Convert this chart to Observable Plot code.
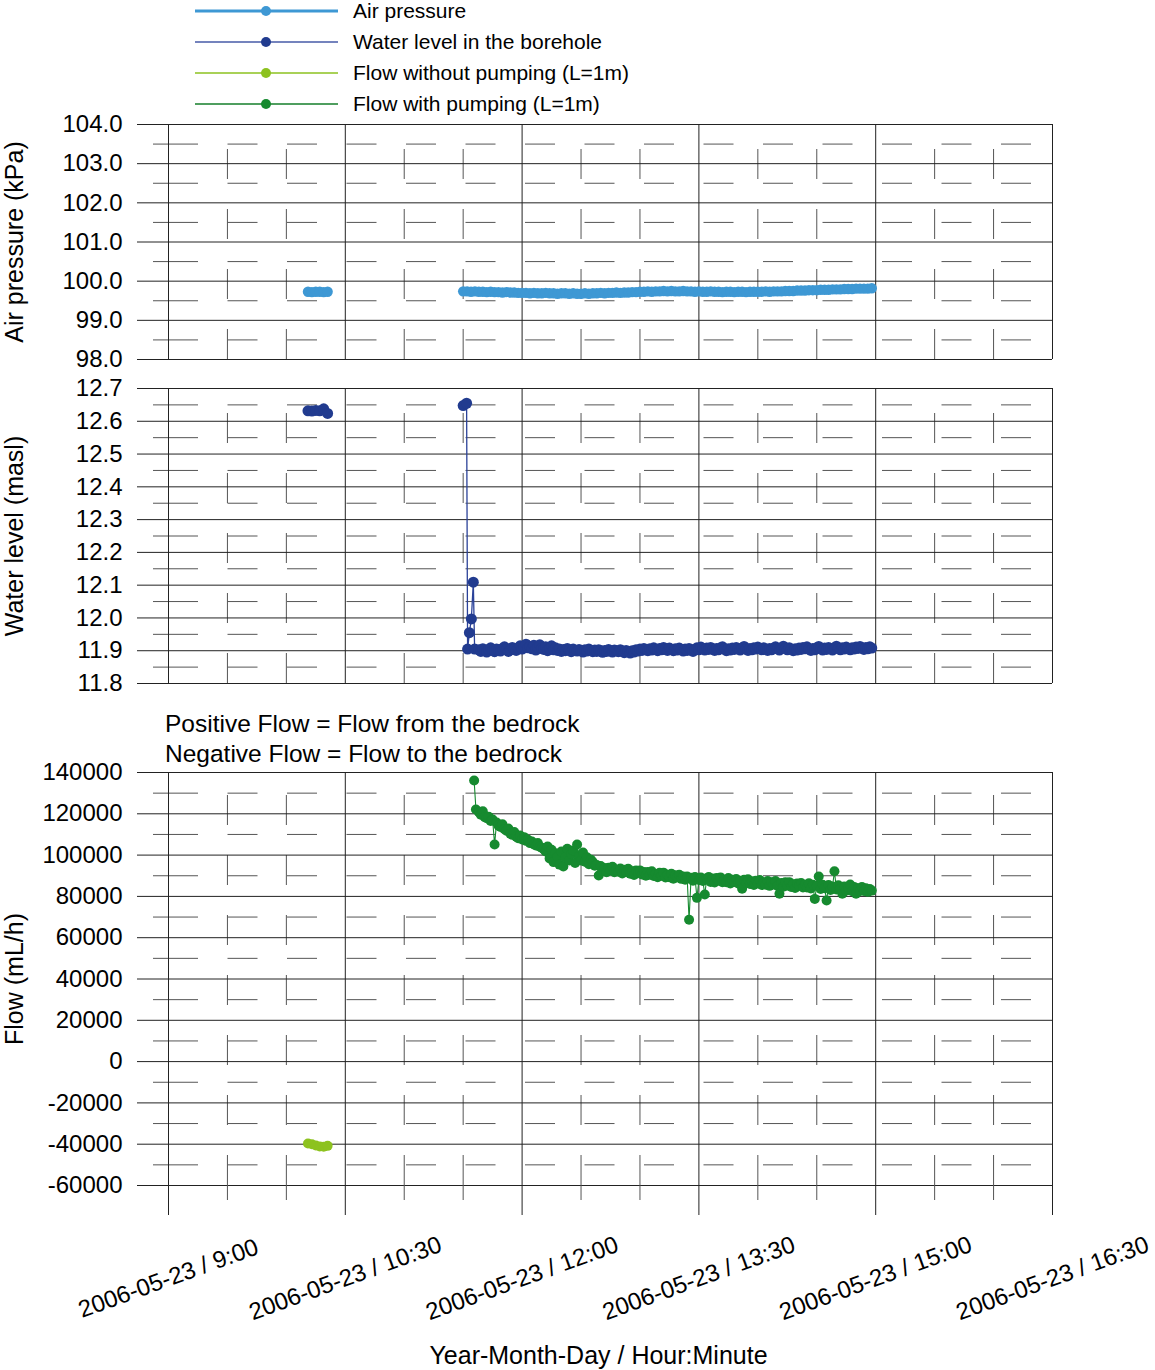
<!DOCTYPE html>
<html>
<head>
<meta charset="utf-8">
<script src="https://cdn.jsdelivr.net/npm/d3@7"></script>
<script src="https://cdn.jsdelivr.net/npm/@observablehq/plot@0.6"></script>
<style>
  body { margin: 0; background: #fff; }
  #chart { position: relative; width: 1155px; height: 1370px; overflow: hidden; background: #fff;
           font-family: "Liberation Sans", Arial, sans-serif; }
  #chart > svg { position: absolute; left: 0; margin: 0; }
</style>
</head>
<body>
<div id="chart"></div>
<script>
// ---- time axis ----
const majorTimes = ["09:00", "10:30", "12:00", "13:30", "15:00", "16:30"];
const minorTimes = ["09:30", "10:00", "11:00", "11:30", "12:30", "13:00", "14:00", "14:30", "15:30", "16:00"];
const xTickLabels = ["2006-05-23 / 9:00", "2006-05-23 / 10:30", "2006-05-23 / 12:00",
                     "2006-05-23 / 13:30", "2006-05-23 / 15:00", "2006-05-23 / 16:30"];
const xTitle = "Year-Month-Day / Hour:Minute";

// ---- y ticks per panel ----
const pressureTicks = [98, 99, 100, 101, 102, 103, 104];
const pressureMinor = [98.5, 99.5, 100.5, 101.5, 102.5, 103.5];
const levelTicks = [11.8, 11.9, 12.0, 12.1, 12.2, 12.3, 12.4, 12.5, 12.6, 12.7];
const levelMinor = [11.85, 11.95, 12.05, 12.15, 12.25, 12.35, 12.45, 12.55, 12.65];
const flowTicks = [-60000, -40000, -20000, 0, 20000, 40000, 60000, 80000, 100000, 120000, 140000];
const flowMinor = [-50000, -30000, -10000, 10000, 30000, 50000, 70000, 90000, 110000, 130000];

// ---- logged series ----
// Run A: before pumping, logged every 2 min from 10:11
const runAStart = "10:11";
const pressureRunA = [99.73, 99.72, 99.73, 99.73, 99.72, 99.73];
const levelRunA = [12.632, 12.631, 12.633, 12.632, 12.638, 12.624];
const flowNoPumpRunA = [-39700, -40000, -40600, -41100, -41200, -40800];

// Run B air pressure: logged every 2 min from 11:30
const runBStart = "11:30";
const pressureRunB = [
  99.74, 99.74, 99.73, 99.74, 99.73, 99.73, 99.72, 99.73, 99.72, 99.72, 99.71, 99.72, 99.71, 99.71, 99.70, 99.70,
  99.70, 99.69, 99.70, 99.69, 99.69, 99.70, 99.69, 99.69, 99.68, 99.69, 99.69, 99.68, 99.69, 99.68, 99.68,
  99.69, 99.68, 99.69, 99.69, 99.70, 99.69, 99.70, 99.70, 99.71, 99.70, 99.71, 99.71, 99.72, 99.72, 99.73,
  99.73, 99.74, 99.73, 99.74, 99.74, 99.75, 99.74, 99.75, 99.74, 99.74, 99.75, 99.74, 99.74, 99.73, 99.74,
  99.73, 99.73, 99.74, 99.73, 99.73, 99.72, 99.73, 99.73, 99.72, 99.73, 99.73, 99.72, 99.73, 99.73, 99.73,
  99.73, 99.74, 99.73, 99.74, 99.74, 99.74, 99.75, 99.75, 99.75, 99.76, 99.76, 99.76, 99.77, 99.77, 99.77,
  99.78, 99.78, 99.78, 99.79, 99.79, 99.79, 99.80, 99.80, 99.80, 99.81, 99.81, 99.81, 99.81, 99.82
];

// Water level drop when pumping starts (irregular samples)
const levelDropTimes = ["11:30:00", "11:31:45", "11:32:15", "11:33:10", "11:34:10", "11:35:10", "11:35:50"];
const levelDropValues = [12.648, 12.655, 11.905, 11.955, 11.997, 12.109, 11.905];

// Flow when pumping starts (irregular samples)
const flowStartTimes = ["11:35:35", "11:36:30"];
const flowStartValues = [136100, 122100];

// Steady pumping, logged every minute from 11:38 to 14:58
const steadyStart = "11:38";
const levelSteady = [
  11.903, 11.898, 11.906, 11.901, 11.896, 11.904, 11.909, 11.900, 11.897, 11.905,
  11.902, 11.899, 11.907, 11.912, 11.904, 11.898, 11.903, 11.910, 11.906, 11.901,
  11.908, 11.915, 11.905, 11.911, 11.920, 11.909, 11.913, 11.906, 11.917, 11.902,
  11.910, 11.918, 11.907, 11.904, 11.912, 11.900, 11.906, 11.915, 11.903, 11.909,
  11.901, 11.905, 11.898, 11.904, 11.900, 11.907, 11.902, 11.897, 11.905, 11.901,
  11.899, 11.904, 11.900, 11.896, 11.903, 11.899, 11.905, 11.901, 11.897, 11.902,
  11.898, 11.903, 11.900, 11.895, 11.901, 11.898, 11.904, 11.899, 11.896, 11.902,
  11.900, 11.897, 11.903, 11.899, 11.894, 11.901, 11.898, 11.893, 11.900, 11.896,
  11.903, 11.899, 11.905, 11.901, 11.907, 11.903, 11.900, 11.906, 11.902, 11.909,
  11.904, 11.900, 11.907, 11.903, 11.910, 11.905, 11.901, 11.908, 11.904, 11.900,
  11.906, 11.902, 11.908, 11.904, 11.899, 11.905, 11.901, 11.907, 11.903, 11.898,
  11.904, 11.909, 11.903, 11.911, 11.906, 11.902, 11.908, 11.904, 11.910, 11.905,
  11.901, 11.907, 11.903, 11.909, 11.912, 11.905, 11.900, 11.906, 11.902, 11.908,
  11.904, 11.910, 11.906, 11.902, 11.908, 11.913, 11.905, 11.901, 11.907, 11.903,
  11.909, 11.905, 11.911, 11.907, 11.903, 11.909, 11.905, 11.901, 11.907, 11.903,
  11.908, 11.912, 11.906, 11.902, 11.908, 11.914, 11.907, 11.903, 11.909, 11.905,
  11.900, 11.906, 11.902, 11.908, 11.904, 11.910, 11.906, 11.912, 11.905, 11.901,
  11.907, 11.903, 11.909, 11.913, 11.906, 11.902, 11.908, 11.904, 11.910, 11.906,
  11.902, 11.908, 11.914, 11.907, 11.903, 11.909, 11.905, 11.911, 11.907, 11.903,
  11.909, 11.905, 11.911, 11.907, 11.913, 11.908, 11.904, 11.910, 11.906, 11.912,
  11.908
];
const flowPumpSteady = [
  // 11:38 - 12:09
  120800, 119500, 121200, 118400, 117900, 118600, 116500, 117200, 105100, 115800,
  114200, 113600, 114900, 112500, 111800, 112900, 110400, 109800, 111200, 108900,
  108200, 109500, 107600, 108700, 106900, 107400, 105800, 106600, 105200, 104700,
  105900, 104100,
  // 12:10 - 12:39
  103600, 102900, 101800, 104200, 98400, 102600, 96600, 100900, 99200, 95400,
  101700, 94500, 98800, 103100, 97400, 100400, 102200, 96200, 105100, 99600,
  97400, 101300, 96800, 98900, 95600, 97800, 96600, 94900, 95200, 90100,
  // 12:40 - 13:24
  94700, 92500, 93700, 91700, 93900, 92700, 94300, 91700, 92900, 91900,
  93500, 91100, 92900, 91800, 93400, 91000, 92200, 90400, 92600, 91400,
  92600, 90600, 91800, 90000, 91800, 90500, 92200, 89900, 90900, 89300,
  91400, 90000, 91500, 89200, 90500, 89300, 91000, 88600, 90300, 89300,
  90500, 88500, 89600, 88100, 89600,
  // 13:25 - 13:34
  68700, 89000, 87600, 89400, 79300, 87900, 89100, 87500, 80900, 88800,
  // 13:35 - 14:58
  89400, 87000, 88700, 86700, 88900, 87700, 89200, 86900, 88000, 86900,
  88900, 86300, 88100, 87000, 88400, 86300, 87600, 83700, 88100, 86500,
  88300, 86000, 87300, 85500, 87600, 86400, 87900, 85500, 86700, 85700,
  87500, 85100, 86900, 85800, 87500, 85200, 81300, 86500, 84700, 86800,
  85300, 86900, 84600, 85900, 84100, 86300, 85200, 86500, 84300, 85600,
  84300, 86400, 83800, 85600, 78800, 85100, 89600, 83600, 85600, 84000,
  78000, 85500, 83100, 84800, 92200, 83300, 85400, 83700, 81300, 84800,
  82800, 84100, 85800, 82500, 84600, 81300, 84000, 82600, 84500, 82600,
  83900, 82200, 83600, 82800
];

// ---- colours ----
const cPressure = "#3e98d4";
const cLevel = "#213b8f";
const cNoPump = "#8dc21f";
const cPump = "#168a2f";

// ---- helpers ----
function t(hms) {
  const [h, m, s = 0] = hms.split(":").map(Number);
  return new Date(Date.UTC(2006, 4, 23, h, m, s));
}
function logged(start, stepMin, values, run) {
  const t0 = +t(start);
  return values.map((value, i) => ({time: new Date(t0 + i * stepMin * 60000), value, run}));
}
function listed(times, values, run) {
  return values.map((value, i) => ({time: t(times[i]), value, run}));
}

const pressureData = [...logged(runAStart, 2, pressureRunA, "A"), ...logged(runBStart, 2, pressureRunB, "B")];
const levelData = [...logged(runAStart, 2, levelRunA, "A"),
                   ...listed(levelDropTimes, levelDropValues, "B"),
                   ...logged(steadyStart, 1, levelSteady, "B")];
const flowNoPumpData = logged(runAStart, 2, flowNoPumpRunA, "A");
const flowPumpData = [...listed(flowStartTimes, flowStartValues, "B"),
                      ...logged(steadyStart, 1, flowPumpSteady, "B")];

const majorDates = majorTimes.map(t);
const minorDates = minorTimes.map(t);
const FONT = '"Liberation Sans", Arial, sans-serif';

function panel({top, frameHeight, domain, ticks, minor, format, title, marks, marginBottom = 10, showAxisX = false}) {
  const marginTop = 20;
  const extra = showAxisX ? [
    Plot.axisX({ticks: majorDates, tickSize: 30, fill: "none", stroke: "#222", label: null}),
    Plot.axisX({ticks: minorDates, tickSize: 15, fill: "none", stroke: "#555", label: null}),
    Plot.text(majorDates, {x: (d) => d, text: (d, i) => xTickLabels[i], frameAnchor: "bottom",
      dy: 93, rotate: -20, textAnchor: "middle", lineAnchor: "middle", fontSize: 24}),
    Plot.text([xTitle], {text: (d) => d, frameAnchor: "bottom", dx: -12, dy: 178,
      textAnchor: "middle", lineAnchor: "bottom", fontSize: 25})
  ] : [];
  const svg = Plot.plot({
    width: 1155,
    height: marginTop + frameHeight + marginBottom,
    marginLeft: 168, marginRight: 103, marginTop, marginBottom,
    style: {fontFamily: FONT, fontSize: "24px", color: "#000", background: "transparent", overflow: "visible"},
    x: {type: "utc", domain: [t("09:00"), t("16:30")], axis: showAxisX ? undefined : null, label: null},
    y: {domain, label: null},
    marks: [
      // minor grid: long dashes, horizontal from the left, vertical from the bottom
      Plot.ruleY(minor, {stroke: "#555", strokeDasharray: "30,29.5"}),
      Plot.ruleX(minorDates, {x: (d) => d, y1: domain[0], y2: domain[1], stroke: "#555", strokeDasharray: "30,30"}),
      // major grid
      Plot.ruleY(ticks, {stroke: "#222"}),
      Plot.ruleX(majorDates, {stroke: "#222"}),
      Plot.axisY({ticks, tickSize: 31, tickPadding: 15, tickFormat: format, stroke: "#222", fontSize: 24, label: null}),
      Plot.axisY({ticks: minor, tickSize: 15, fill: "none", stroke: "#555", label: null}),
      Plot.text([title], {text: (d) => d, frameAnchor: "left", dx: -154, rotate: -90,
        textAnchor: "middle", lineAnchor: "middle", fontSize: 25}),
      ...extra,
      ...marks
    ]
  });
  svg.style.top = (top - marginTop) + "px";
  document.getElementById("chart").appendChild(svg);
}

// Air pressure
panel({
  top: 124, frameHeight: 235, domain: [98, 104], ticks: pressureTicks, minor: pressureMinor,
  format: d3.format(".1f"), title: "Air pressure (kPa)",
  marks: [
    Plot.line(pressureData, {x: "time", y: "value", z: "run", stroke: cPressure, strokeWidth: 3}),
    Plot.dot(pressureData, {x: "time", y: "value", r: 5.2, fill: cPressure})
  ]
});

// Water level in the borehole
panel({
  top: 388, frameHeight: 295, domain: [11.8, 12.7], ticks: levelTicks, minor: levelMinor,
  format: d3.format(".1f"), title: "Water level (masl)",
  marks: [
    Plot.line(levelData, {x: "time", y: "value", z: "run", stroke: "#2b4299", strokeWidth: 1.3}),
    Plot.dot(levelData, {x: "time", y: "value", r: 5.5, fill: cLevel})
  ]
});

// Flow
panel({
  top: 772, frameHeight: 413, domain: [-60000, 140000], ticks: flowTicks, minor: flowMinor,
  format: (d) => String(d), title: "Flow (mL/h)", marginBottom: 185, showAxisX: true,
  marks: [
    Plot.line(flowNoPumpData, {x: "time", y: "value", stroke: cNoPump, strokeWidth: 1.3}),
    Plot.dot(flowNoPumpData, {x: "time", y: "value", r: 5, fill: cNoPump}),
    Plot.line(flowPumpData, {x: "time", y: "value", stroke: cPump, strokeWidth: 1.1}),
    Plot.dot(flowPumpData, {x: "time", y: "value", r: 5, fill: cPump})
  ]
});

// Legend and flow note
const legendItems = [
  {label: "Air pressure", line: cPressure, width: 3, dot: cPressure},
  {label: "Water level in the borehole", line: "#7483bd", width: 2, dot: cLevel},
  {label: "Flow without pumping (L=1m)", line: cNoPump, width: 1.5, dot: cNoPump},
  {label: "Flow with pumping (L=1m)", line: "#4f9e5f", width: 1.8, dot: cPump}
];
const overlay = d3.select("#chart").append("svg")
  .attr("width", 1155).attr("height", 1370)
  .style("top", "0px").style("pointer-events", "none")
  .style("font-family", FONT);
const rows = overlay.selectAll("g.item").data(legendItems).join("g")
  .attr("class", "item")
  .attr("transform", (d, i) => `translate(0,${11 + i * 31})`);
rows.append("line").attr("x1", 195).attr("x2", 338).attr("y1", 0).attr("y2", 0)
  .attr("stroke", (d) => d.line).attr("stroke-width", (d) => d.width);
rows.append("circle").attr("cx", 266).attr("cy", 0).attr("r", 5).attr("fill", (d) => d.dot);
rows.append("text").attr("x", 353).attr("y", 0).attr("dy", "0.35em")
  .attr("font-size", 21).attr("fill", "#000").text((d) => d.label);

const notes = ["Positive Flow = Flow from the bedrock", "Negative Flow = Flow to the bedrock"];
overlay.selectAll("text.note").data(notes).join("text")
  .attr("class", "note")
  .attr("x", 165).attr("y", (d, i) => 732 + i * 30)
  .attr("font-size", 24.5).attr("fill", "#000").text((d) => d);
</script>
</body>
</html>
